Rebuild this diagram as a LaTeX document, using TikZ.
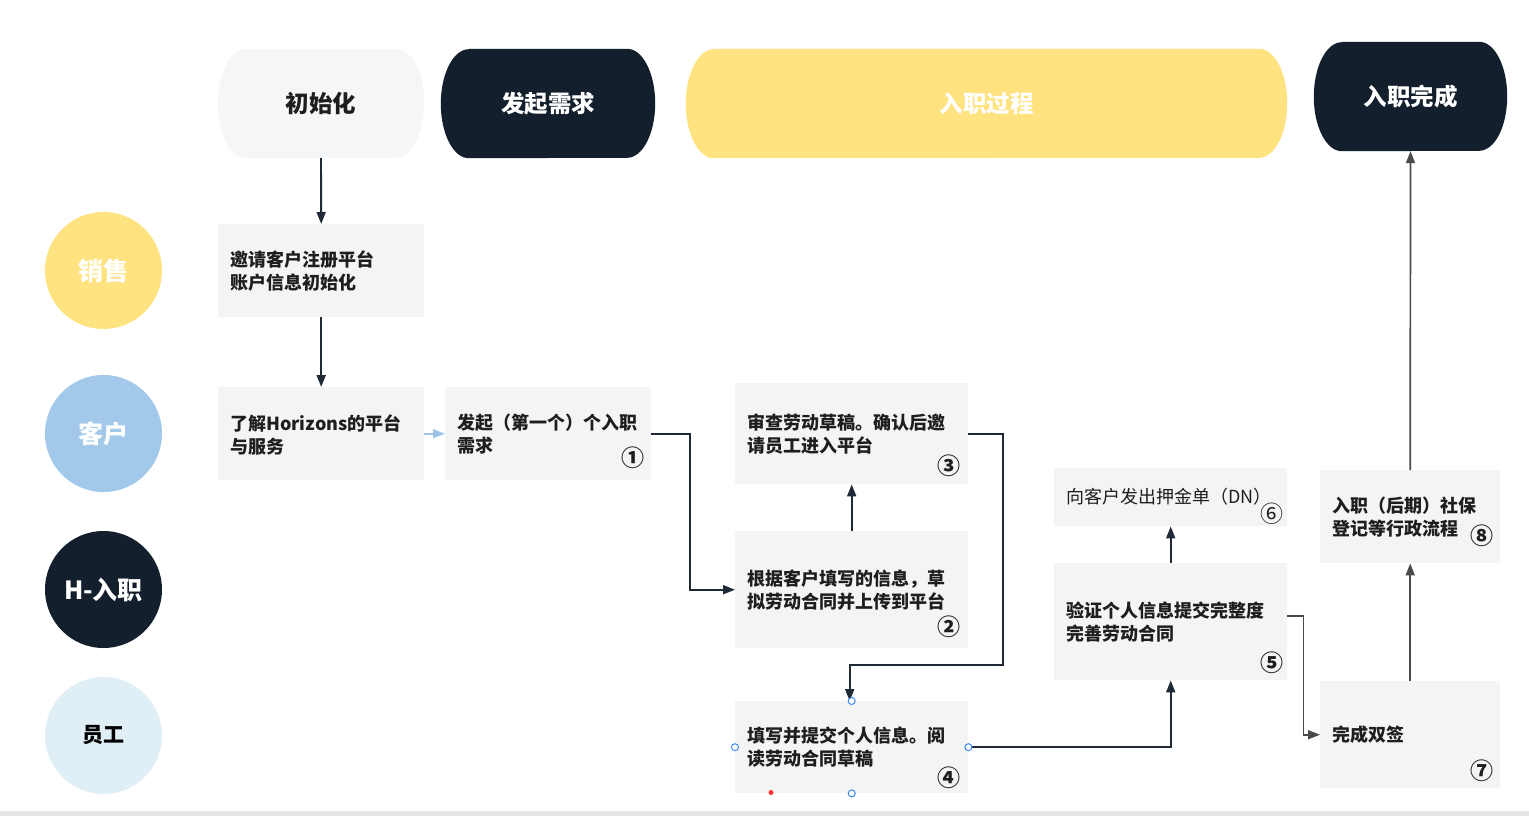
\documentclass[tikz,border=0pt]{standalone}
\usepackage{fontspec}
\setmainfont{Noto Sans CJK SC}
\usetikzlibrary{arrows.meta,backgrounds,shapes.geometric}
\definecolor{navy}{HTML}{131F2C}
\definecolor{yel}{HTML}{FEE380}
\definecolor{hgrey}{HTML}{F4F6F8}
\definecolor{boxgrey}{HTML}{F4F4F4}
\definecolor{cblue}{HTML}{A2C8EA}
\definecolor{clight}{HTML}{E0EFF5}
\definecolor{lblue}{HTML}{9DC3E6}
\definecolor{linecol}{HTML}{1F2A36}
\definecolor{greyline}{HTML}{4A4A4A}
\definecolor{txtcol}{HTML}{1E1E1E}
\definecolor{botgrey}{HTML}{E6E6E6}
\definecolor{handle}{HTML}{3D8BF2}
\newcommand\hdrfill[2]{%
  \fill[#2] ([xshift=28pt]#1.north west) -- ([xshift=-28pt]#1.north east)
    arc[start angle=90,end angle=-90,x radius=28pt,y radius=54.5pt]
    -- ([xshift=28pt]#1.south west)
    arc[start angle=270,end angle=90,x radius=28pt,y radius=54.5pt] -- cycle;}
\begin{document}
\begin{tikzpicture}[x=1pt,y=-1pt,
  hdr/.style={draw=none,fill=none,minimum height=109pt,inner sep=0,
    font=\bfseries\fontsize{23.5}{26}\selectfont},
  lane/.style={circle,minimum size=117pt,inner sep=0,
    font=\bfseries\fontsize{25}{28}\selectfont},
  box/.style={fill=boxgrey,draw=none,anchor=north west,inner sep=0},
  txt/.style={font=\bfseries\fontsize{18}{23}\selectfont,align=left,anchor=west,inner sep=0,text=txtcol},
  num/.style={font=\bfseries\fontsize{23}{23}\selectfont,inner sep=0,text=txtcol},
  arr/.style={draw=linecol,line width=1.9pt,-{Triangle[length=12pt,width=9pt]}},
  garr/.style={draw=greyline,line width=1.7pt,-{Triangle[length=12pt,width=9pt]}},
  hnd/.style={circle,draw=handle,fill=white,line width=1pt,minimum size=7pt,inner sep=0}
]
\useasboundingbox (0,0) rectangle (1529,816);

% headers
\node[hdr,minimum width=206pt,text=txtcol] (h1) at (321,103.5) {初始化};
\node[hdr,minimum width=214pt,text=white] (h2) at (548,103.5) {发起需求};
\node[hdr,minimum width=601pt,text=white] (h3) at (986.5,103.5) {入职过程};
\node[hdr,minimum width=193pt,text=white] (h4) at (1410.5,96.5) {入职完成};
\begin{scope}[on background layer]
\fill[white] (0,0) rectangle (1529,816);
\fill[botgrey] (0,811) rectangle (1529,816);
\hdrfill{h1}{hgrey}
\hdrfill{h2}{navy}
\hdrfill{h3}{yel}
\hdrfill{h4}{navy}
\end{scope}

% lanes
\node[lane,fill=yel,text=white] (l1) at (103.5,270.5) {销售};
\node[lane,fill=cblue,text=white] (l2) at (103.5,433.5) {客户};
\node[lane,fill=navy,text=white] (l3) at (103.5,589.5) {H-入职};
\node[lane,fill=clight,text=black,font=\bfseries\fontsize{21}{24}\selectfont] (l4) at (103.5,735.5) {员工};

% boxes
\node[box,minimum width=206pt,minimum height=93pt] (A) at (218,224) {};
\node[box,minimum width=206pt,minimum height=93pt] (B) at (218,387) {};
\node[box,minimum width=206pt,minimum height=93pt] (C) at (445,387) {};
\node[box,minimum width=233pt,minimum height=101pt] (D) at (735,383) {};
\node[box,minimum width=233pt,minimum height=117pt] (E) at (735,531) {};
\node[box,minimum width=233pt,minimum height=92pt] (F) at (735,701) {};
\node[box,minimum width=233pt,minimum height=58pt] (G) at (1054,468) {};
\node[box,minimum width=233pt,minimum height=117pt] (H) at (1054,563) {};
\node[box,minimum width=180pt,minimum height=107pt] (I) at (1320,681) {};
\node[box,minimum width=180pt,minimum height=93pt] (J) at (1320,470) {};

% texts
\node[txt] (At) at (230,271.5) {邀请客户注册平台\\账户信息初始化};
\node[txt] (Bt) at (230,434.5) {了解Horizons的平台\\与服务};
\node[txt] (Ct) at (457,434.5) {发起（第一个）个入职\\需求};
\node[txt] (Dt) at (747,434.5) {审查劳动草稿。确认后邀\\请员工进入平台};
\node[txt] (Et) at (747,590.5) {根据客户填写的信息，草\\拟劳动合同并上传到平台};
\node[txt] (Ft) at (747,747.5) {填写并提交个人信息。阅\\读劳动合同草稿};
\node[txt,font=\fontsize{18}{23}\selectfont] (Gt) at (1066,497) {向客户发出押金单（DN）};
\node[txt] (Ht) at (1066,622.5) {验证个人信息提交完整度\\完善劳动合同};
\node[txt] (It) at (1332,735) {完成双签};
\node[txt] (Jt) at (1332,517.5) {入职（后期）社保\\登记等行政流程};

% numbers
\node[num] (n1) at (633,458) {①};
\node[num] (n2) at (949,627) {②};
\node[num] (n3) at (949,466) {③};
\node[num] (n4) at (949,778) {④};
\node[num] (n5) at (1272,663) {⑤};
\node[num,font=\fontsize{23}{23}\selectfont] (n6) at (1272,514) {⑥};
\node[num] (n7) at (1482,771) {⑦};
\node[num] (n8) at (1482,536) {⑧};

% connectors
\draw[arr] (h1.south) -- (A.north);
\draw[arr] (A.south) -- (B.north);
\draw[arr,draw=lblue,line width=1.6pt] (B.east) -- (C.west);
\draw[arr] (C.east) -- ++(39,0) |- (E.west);
\draw[arr] (E.north) -- (D.south);
\draw[arr] (D.east) -- ++(35,0) -- ++(0,231.5) -| ([xshift=-2pt]F.north);
\draw[arr] (F.east) -| (H.south);
\draw[arr] (H.north) -- (G.south);
\draw[garr] ([yshift=5.5pt]H.east) -- ++(16,0) |- (I.west);
\draw[garr] (I.north) -- (J.south);
\draw[garr] (J.north) -- (h4.south);

% selection handles
\node[hnd] (s1) at (F.north) {};
\node[hnd] (s2) at (F.west) {};
\node[hnd] (s3) at (F.east) {};
\node[hnd] (s4) at (F.south) {};
\fill[red!80!white] (771,792.5) circle (2.5pt);
\end{tikzpicture}
\end{document}
